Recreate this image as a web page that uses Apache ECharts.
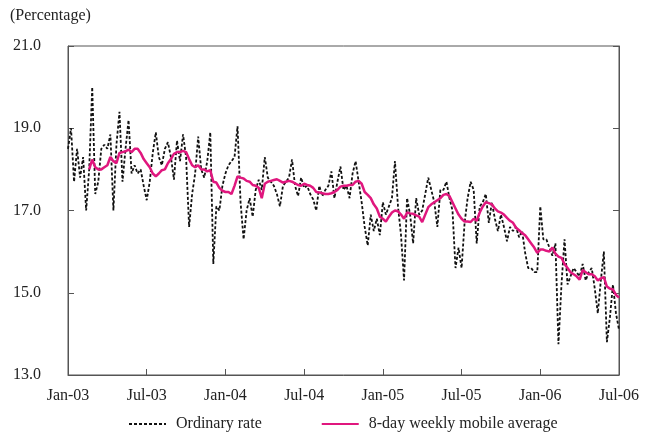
<!DOCTYPE html>
<html><head><meta charset="utf-8">
<script src="https://cdn.jsdelivr.net/npm/echarts@6/dist/echarts.min.js"></script>
<style>html,body{margin:0;padding:0;background:#fff}#c{width:652px;height:434px}</style>
</head><body><div id="c"></div>
<script>
const xLabels = ['Jan-03','Jul-03','Jan-04','Jul-04','Jan-05','Jul-05','Jan-06','Jul-06'];
const yTicks = [13, 15, 17, 19, 21];
const seriesNames = ['Ordinary rate', '8-day weekly mobile average'];
// weekly values, week 0 = Jan-03 ... week 182 = Jul-06
const ordinaryRate = [
18.5,19.0,17.7,18.5,17.8,18.3,17.0,18.0,20.0,17.4,
17.7,18.5,18.6,18.5,18.85,17.0,18.6,19.4,17.7,18.5,
19.2,17.9,18.1,17.9,18.0,17.6,17.25,17.7,18.4,18.9,
18.3,18.1,18.5,18.66,18.3,17.75,18.7,18.2,18.85,18.3,
16.6,17.4,17.9,18.8,18.0,17.8,18.2,18.9,15.7,17.1,
17.0,17.6,17.9,18.1,18.2,18.3,19.05,17.2,16.3,17.0,
17.3,16.85,17.5,17.75,17.5,18.3,17.8,17.7,17.6,17.4,
17.1,17.6,17.7,17.8,18.24,17.6,17.35,17.8,17.55,17.6,
17.4,17.27,17.0,17.6,17.35,17.5,17.6,17.95,17.3,17.7,
18.07,17.5,17.6,17.3,17.9,18.2,17.7,17.2,16.6,16.15,
16.9,16.5,16.8,16.4,17.2,16.9,17.1,17.3,18.2,17.1,
16.4,15.3,17.3,16.9,16.2,17.3,16.9,17.0,17.4,17.8,
17.5,17.2,16.6,17.5,17.5,17.7,17.3,17.0,15.6,16.1,
15.6,16.7,17.3,17.7,17.5,16.2,17.1,17.2,17.4,16.7,
17.2,16.8,16.5,16.9,16.6,16.25,16.6,16.5,16.6,16.35,
16.5,15.97,15.6,15.6,15.5,15.5,17.1,16.3,16.3,16.1,
15.9,16.2,13.75,15.2,16.3,15.2,15.4,15.6,15.5,15.4,
15.7,15.3,15.5,15.6,15.1,14.5,15.3,16.0,13.8,14.4,
15.2,14.5,14.1
];
const mobileAverage = [
null,null,null,null,null,null,null,18.0,18.24,18.05,
18.0,18.0,18.05,18.1,18.3,18.2,18.15,18.4,18.42,18.44,
18.48,18.42,18.5,18.5,18.4,18.25,18.15,18.05,17.9,17.83,
17.9,17.98,18.0,18.15,18.25,18.38,18.42,18.42,18.45,18.42,
18.25,18.1,18.05,18.1,18.0,18.0,17.95,17.98,17.7,17.68,
17.55,17.48,17.45,17.45,17.4,17.6,17.83,17.8,17.78,17.72,
17.7,17.62,17.6,17.55,17.3,17.65,17.7,17.72,17.74,17.76,
17.72,17.68,17.7,17.72,17.7,17.66,17.62,17.6,17.65,17.62,
17.6,17.55,17.45,17.44,17.42,17.4,17.4,17.42,17.45,17.5,
17.58,17.6,17.6,17.62,17.62,17.7,17.72,17.65,17.45,17.38,
17.3,17.15,17.05,16.85,16.8,16.73,16.85,16.95,17.0,16.98,
16.9,16.8,16.95,16.93,16.92,16.88,16.85,16.72,16.9,17.08,
17.15,17.2,17.25,17.3,17.38,17.4,17.35,17.2,17.05,16.9,
16.8,16.73,16.73,16.72,16.8,16.75,16.95,17.1,17.2,17.18,
17.15,17.05,16.98,16.95,16.9,16.82,16.75,16.7,16.58,16.52,
16.45,16.4,16.3,16.2,16.1,15.97,16.05,16.05,16.02,16.0,
16.1,15.95,15.88,15.85,15.7,15.6,15.5,15.45,15.4,15.32,
15.55,15.5,15.45,15.45,15.4,15.3,15.35,15.38,15.15,15.1,
15.08,14.95,14.88
];
const weeksPerLabel = 26;

const font = 'Liberation Serif, Times New Roman, serif';
const fs = 16;
const chart = echarts.init(document.getElementById('c'), null, {renderer: 'canvas'});
const axisColor = '#555';
chart.setOption({
  animation: false,
  textStyle: {fontFamily: font},
  graphic: [{type: 'text', left: 10, top: 8, style: {text: '(Percentage)', font: fs + 'px ' + font, fill: '#222'}}],
  grid: {left: 68, right: 33, top: 46, bottom: 59, show: true, borderColor: axisColor, borderWidth: 1},
  legend: {
    top: 411, left: 123, itemGap: 59, itemWidth: 37, itemHeight: 10,
    itemStyle: {opacity: 0},
    textStyle: {fontFamily: font, fontSize: fs, color: '#222', padding: [0, 0, 0, 5]},
    data: seriesNames
  },
  xAxis: {
    type: 'value', min: 0, max: (xLabels.length - 1) * weeksPerLabel, interval: weeksPerLabel,
    axisLine: {show: true, lineStyle: {color: axisColor}},
    axisTick: {show: true, inside: true, length: 6, lineStyle: {color: axisColor}},
    axisLabel: {fontFamily: font, fontSize: fs, color: '#222', margin: 13,
      formatter: v => xLabels[Math.round(v / weeksPerLabel)] || ''},
    splitLine: {show: false}
  },
  yAxis: [{
    type: 'value', min: yTicks[0], max: yTicks[yTicks.length - 1], interval: 2,
    axisLine: {show: true, lineStyle: {color: axisColor}},
    axisTick: {show: true, inside: true, length: 6, lineStyle: {color: axisColor}},
    axisLabel: {fontFamily: font, fontSize: fs, color: '#222', margin: 27, align: 'right',
      formatter: v => v.toFixed(1)},
    splitLine: {show: false}
  }, {
    type: 'value', position: 'right', min: yTicks[0], max: yTicks[yTicks.length - 1], interval: 2,
    axisLine: {show: true, lineStyle: {color: axisColor}},
    axisTick: {show: true, inside: true, length: 6, lineStyle: {color: axisColor}},
    axisLabel: {show: false}, splitLine: {show: false}
  }],
  series: [{
    name: seriesNames[0], type: 'line', symbol: 'none',
    data: ordinaryRate.map((v, i) => [i, v]),
    lineStyle: {color: '#111', width: 1.8, type: [3, 2]},
    itemStyle: {color: '#111'}, z: 2
  }, {
    name: seriesNames[1], type: 'line', symbol: 'none',
    data: mobileAverage.map((v, i) => [i, v]),
    lineStyle: {color: '#E0177E', width: 2.5},
    itemStyle: {color: '#E0177E'}, z: 3
  }]
});
</script></body></html>
